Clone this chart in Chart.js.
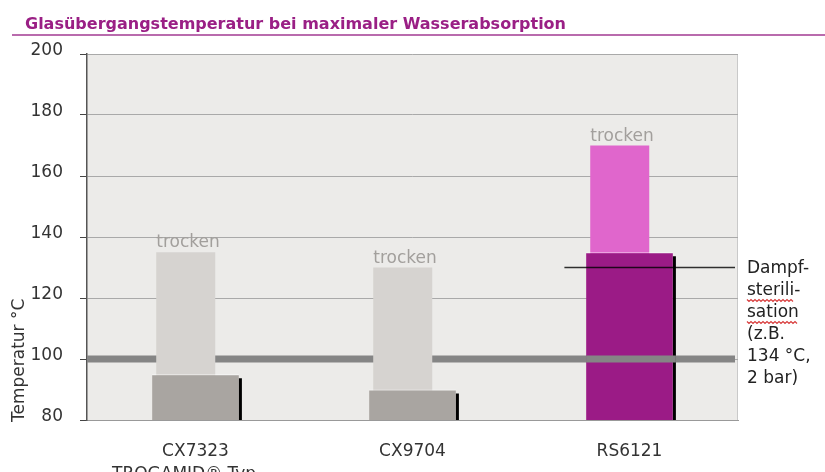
<!DOCTYPE html>
<html>
<head>
<meta charset="utf-8">
<script src="https://cdn.jsdelivr.net/npm/chart.js@4.4.1/dist/chart.umd.min.js"></script>
<style>
  body { margin: 0; background: #fff; }
  #wrap { width: 825px; height: 472px; }
</style>
</head>
<body>
<div id="wrap"><canvas id="tgChart" width="825" height="472"></canvas></div>
<script>
// values
var typen = ['CX7323', 'CX9704', 'RS6121'];
var trocken = [135, 130, 170];      // Tg dry
var nass = [95, 90, 135];           // Tg at max water absorption
var yTicks = [80, 100, 120, 140, 160, 180, 200];
var kochTemp = 100;                 // boiling water band
var sterilTemp = 130;               // steam sterilisation line
var sterilText = ['Dampf-', 'sterili-', 'sation', '(z.B.', '134 °C,', '2 bar)'];

var trockenFarben = ['#d6d3d0', '#d6d3d0', '#e066cc'];
var nassFarben = ['#a9a5a1', '#a9a5a1', '#9b1b86'];
var FONT = '"DejaVu Sans", sans-serif';

var extras = {
    id: 'extras',
    beforeDraw: function (chart) {
        var ctx = chart.ctx, a = chart.chartArea;
        ctx.save();
        ctx.fillStyle = '#ecebe9';
        ctx.fillRect(a.left, a.top, a.right - a.left, a.bottom - a.top);
        ctx.strokeStyle = '#c9c9c9';
        ctx.lineWidth = 1;
        ctx.beginPath();
        ctx.moveTo(a.right - 0.5, a.top);
        ctx.lineTo(a.right - 0.5, a.bottom);
        ctx.stroke();
        // title + underline
        ctx.fillStyle = '#9a1f85';
        ctx.font = 'bold 16px ' + FONT;
        ctx.textBaseline = 'alphabetic';
        ctx.fillText('Glasübergangstemperatur bei maximaler Wasserabsorption', 25, 29);
        ctx.strokeStyle = '#a23a92';
        ctx.lineWidth = 1.5;
        ctx.beginPath();
        ctx.moveTo(12, 35);
        ctx.lineTo(chart.width, 35);
        ctx.stroke();
        // y title
        ctx.fillStyle = '#333';
        ctx.font = '17px ' + FONT;
        ctx.translate(20, a.bottom + 2);
        ctx.rotate(-Math.PI / 2);
        ctx.textAlign = 'left';
        ctx.textBaseline = 'middle';
        ctx.fillText('Temperatur °C', 0, 0);
        ctx.restore();
    },
    afterDatasetsUpdate: function (chart) {
        // dry bars sit a little left of the wet bars
        var x = chart.scales.x;
        var catW = x.getPixelForValue(1) - x.getPixelForValue(0);
        chart.getDatasetMeta(1).data.forEach(function (el) {
            el.x -= catW * 0.045;
        });
    },
    beforeDatasetsDraw: function (chart) {
        var ctx = chart.ctx, a = chart.chartArea;
        var y = chart.scales.y.getPixelForValue(kochTemp);
        ctx.save();
        ctx.strokeStyle = '#858585';
        ctx.lineWidth = 7;
        ctx.beginPath();
        ctx.moveTo(a.left, y);
        ctx.lineTo(a.right - 3, y);
        ctx.stroke();
        ctx.restore();
    },
    afterDatasetsDraw: function (chart) {
        var ctx = chart.ctx, a = chart.chartArea;
        var ys = chart.scales.y, xs = chart.scales.x;
        var wet = chart.getDatasetMeta(0).data;
        var dry = chart.getDatasetMeta(1).data;
        ctx.save();
        // black shadow on the right of wet bars
        ctx.strokeStyle = '#000';
        ctx.lineWidth = 3;
        wet.forEach(function (b) {
            ctx.beginPath();
            ctx.moveTo(b.x + b.width / 2 + 1.5, b.y + 4);
            ctx.lineTo(b.x + b.width / 2 + 1.5, a.bottom);
            ctx.stroke();
        });
        // band shows over the RS6121 wet bar
        var b = wet[2], yb = ys.getPixelForValue(kochTemp);
        ctx.strokeStyle = '#858585';
        ctx.lineWidth = 7;
        ctx.beginPath();
        ctx.moveTo(b.x - b.width / 2, yb);
        ctx.lineTo(b.x + b.width / 2 + 3, yb);
        ctx.stroke();
        // "trocken" labels
        ctx.fillStyle = '#a29f9c';
        ctx.font = '17px ' + FONT;
        ctx.textAlign = 'left';
        ctx.textBaseline = 'alphabetic';
        dry.forEach(function (d) {
            ctx.fillText('trocken', d.x - d.width / 2, d.y - 5);
        });
        // steam sterilisation line
        var catW = xs.getPixelForValue(1) - xs.getPixelForValue(0);
        var ysT = ys.getPixelForValue(sterilTemp);
        ctx.strokeStyle = 'rgba(0,0,0,0.8)';
        ctx.lineWidth = 1.5;
        ctx.beginPath();
        ctx.moveTo(xs.getPixelForValue(2) - catW * 0.3, ysT);
        ctx.lineTo(a.right - 3, ysT);
        ctx.stroke();
        // side note
        ctx.fillStyle = '#222';
        ctx.textBaseline = 'middle';
        var tx = a.right + 9;
        sterilText.forEach(function (t, i) {
            var ty = ysT + 1 + i * 22;
            ctx.fillText(t, tx, ty);
            if (i === 1 || i === 2) {
                var w = ctx.measureText(t.replace('-', '')).width;
                ctx.strokeStyle = '#d83c3c';
                ctx.lineWidth = 1.2;
                ctx.beginPath();
                for (var k = 0; k <= w; k += 2) {
                    var yy = ty + 10 + ((k / 2) % 2 ? 1 : -1);
                    if (k === 0) ctx.moveTo(tx + k, yy); else ctx.lineTo(tx + k, yy);
                }
                ctx.stroke();
            }
        });
        // x axis caption, cut at the bottom
        ctx.fillStyle = '#333';
        ctx.textBaseline = 'alphabetic';
        ctx.fillText('TROGAMID® Typ', a.left + 25, a.bottom + 59);
        ctx.restore();
    }
};

var ctx = document.getElementById('tgChart');
var tgChart = new Chart(ctx, {
    type: 'bar',
    data: {
        labels: typen,
        datasets: [{
            label: 'max. Wasserabsorption',
            data: nass.map(function (v) { return [yTicks[0], v]; }),
            backgroundColor: nassFarben,
            borderColor: 'rgba(255,255,255,0.7)',
            borderWidth: { top: 1, left: 0, right: 0, bottom: 0 },
            borderSkipped: false,
            grouped: false,
            categoryPercentage: 1,
            barPercentage: 0.4,
            order: 0
        }, {
            label: 'trocken',
            data: trocken.map(function (v) { return [yTicks[0], v]; }),
            backgroundColor: trockenFarben,
            borderWidth: 0,
            grouped: false,
            categoryPercentage: 1,
            barPercentage: 0.272,
            order: 1
        }]
    },
    options: {
        responsive: false,
        animation: false,
        events: [],
        layout: { padding: { top: 54, right: 87, left: 0, bottom: 0 } },
        plugins: {
            legend: { display: false },
            tooltip: { enabled: false }
        },
        scales: {
            x: {
                grid: { display: false },
                border: { display: true, color: '#999', width: 1 },
                ticks: { color: '#333', font: { family: FONT, size: 17 }, padding: 13 },
                afterFit: function (s) { s.height = 52; }
            },
            y: {
                min: yTicks[0],
                max: yTicks[yTicks.length - 1],
                afterBuildTicks: function (s) {
                    s.ticks = yTicks.map(function (v) { return { value: v }; });
                },
                grid: { color: '#a9a9a9', lineWidth: 1, tickColor: '#444', tickLength: 7 },
                border: { display: true, color: '#555', width: 1.5 },
                ticks: { color: '#333', font: { family: FONT, size: 17 }, padding: 17, labelOffset: -3 },
                afterFit: function (s) { s.width = 87; }
            }
        }
    },
    plugins: [extras]
});
</script>
</body>
</html>
